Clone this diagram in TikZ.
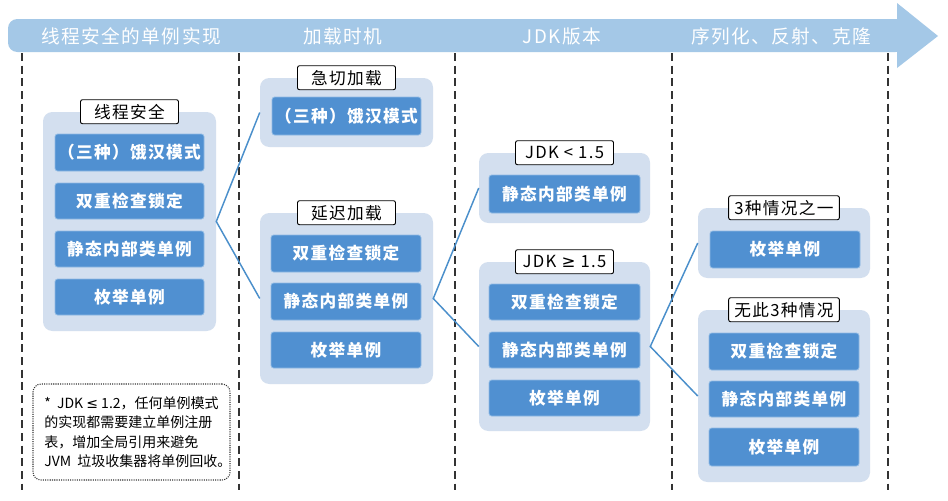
\documentclass[tikz,border=0pt]{standalone}
\usepackage{fontspec}
\setmainfont{Noto Sans CJK SC}
\newfontfamily\lsfont[LetterSpace=8]{Noto Sans CJK SC}
\newfontfamily\symfont{DejaVu Sans}
\usetikzlibrary{fit}
\definecolor{bandc}{HTML}{A4C8E7}
\definecolor{grpc}{HTML}{D3DFEF}
\definecolor{itemc}{HTML}{5090D1}
\definecolor{itemb}{HTML}{8FBAE4}
\definecolor{connc}{HTML}{4A8FCB}
\definecolor{sepc}{HTML}{333333}
\newcommand\ibox[6]{%
  \pgfmathsetmacro\bw{0.75*(#4-#2)}%
  \pgfmathsetmacro\bh{0.75*(#5-#3)}%
  \node[item, minimum width=\bw pt, minimum height=\bh pt] (#1) at ({(#2+#4)/2},{(#3+#5)/2}) {#6};}
\begin{document}
\begin{tikzpicture}[x=0.75pt,y=-0.75pt,
  grp/.style={fill=grpc, rounded corners=7pt, inner sep=0pt},
  item/.style={fill=itemc, draw=itemb, line width=0.6pt, rounded corners=2pt, text=white,
    font=\lsfont\bfseries\fontsize{12.5}{14}\selectfont, inner sep=0pt},
  tag/.style={fill=white, draw=black, line width=0.7pt, rounded corners=1.5pt, text=black,
    font=\lsfont\fontsize{12.5}{14}\selectfont, minimum width=73.5pt, minimum height=18pt, inner sep=0pt},
  widetag/.style={tag, minimum width=83pt},
  head/.style={text=white, font=\lsfont\fontsize{14}{16}\selectfont},
  conn/.style={draw=connc, line width=1.1pt},
  sepline/.style={draw=sepc, line width=1.1pt, dash pattern=on 6pt off 3.5pt},
  note/.style={draw=sepc, line width=0.8pt, dash pattern=on 0.8pt off 0.9pt, rounded corners=6pt,
    inner sep=0pt}
]
\useasboundingbox (0,0) rectangle (948,500);
\fill[white] (0,0) rectangle (948,500);

% header arrow
\fill[bandc, rounded corners=7pt] (8,19) rectangle (905,52);
\fill[bandc] (897,3) -- (938,36) -- (897,68) -- cycle;
\node[head] (h1) at (131,36) {线程安全的单例实现};
\node[head] (h2) at (343,36) {加载时机};
\node[head] (h3) at (562,36) {JDK版本};
\node[head] (h4) at (781,36) {序列化、反射、克隆};

% separators
\foreach \xx/\nm in {22/s1,239/s2,455/s3,672/s4,888/s5}{
  \coordinate (\nm a) at (\xx,53);
  \coordinate (\nm b) at (\xx,490);
  \draw[sepline] (\nm a) -- (\nm b);
}

% group 1: thread safe
\node[grp, fit={(43,112) (216,331)}] (g1) {};
\node[tag] (t1) at (g1.north) {线程安全};
\ibox{g1a}{55}{134}{204}{171}{（三种）饿汉模式}
\ibox{g1b}{55}{183}{204}{219}{双重检查锁定}
\ibox{g1c}{55}{231}{204}{267}{静态内部类单例}
\ibox{g1d}{55}{279}{204}{315}{枚举单例}

% eager
\node[grp, fit={(260,78) (433,147)}] (ge) {};
\node[tag] (te) at (ge.north) {急切加载};
\ibox{gea}{272}{97}{421}{135}{（三种）饿汉模式}

% lazy
\node[grp, fit={(260,213) (433,384)}] (gl) {};
\node[tag] (tl) at (gl.north) {延迟加载};
\ibox{gla}{271}{235}{421}{272}{双重检查锁定}
\ibox{glb}{271}{283}{421}{320}{静态内部类单例}
\ibox{glc}{271}{332}{421}{368}{枚举单例}

% JDK < 1.5
\node[grp, fit={(479,153) (650,223)}] (gj1) {};
\node[tag] (tj1) at (gj1.north) {JDK < 1.5};
\ibox{gj1a}{489}{175}{640}{213}{静态内部类单例}

% JDK >= 1.5
\node[grp, fit={(479,262) (650,431)}] (gj2) {};
\node[tag] (tj2) at (gj2.north) {JDK {\symfont ≥} 1.5};
\ibox{gj2a}{489}{284}{640}{320}{双重检查锁定}
\ibox{gj2b}{489}{332}{640}{368}{静态内部类单例}
\ibox{gj2c}{489}{380}{640}{416}{枚举单例}

% one of 3 cases
\node[grp, fit={(698,208) (870,278)}] (gc1) {};
\node[widetag] (tc1) at (gc1.north) {3种情况之一};
\ibox{gc1a}{710}{231}{860}{268}{枚举单例}

% none of 3 cases
\node[grp, fit={(698,310) (870,482)}] (gc2) {};
\node[widetag] (tc2) at (gc2.north) {无此3种情况};
\ibox{gc2a}{709}{333}{859}{370}{双重检查锁定}
\ibox{gc2b}{709}{381}{859}{417}{静态内部类单例}
\ibox{gc2c}{709}{428}{859}{466}{枚举单例}

% connectors
\draw[conn] (ge.west) -- (g1.east) -- (gl.west);
\draw[conn] (gj1.west) -- (gl.east) -- (gj2.west);
\draw[conn] (gc1.west) -- (gj2.east) -- (gc2.west);

% note
\node[note, fit={(33,384) (230,480)}] (nt) {};
\node[align=left, text=black, font=\fontsize{10.5}{14.6}\selectfont, anchor=west, inner sep=0pt] (ntx) at (44,432)
 {* \ JDK {\symfont ≤} 1.2，任何单例模式\\的实现都需要建立单例注册\\表，增加全局引用来避免\\JVM \ 垃圾收集器将单例回收。};
\end{tikzpicture}
\end{document}
